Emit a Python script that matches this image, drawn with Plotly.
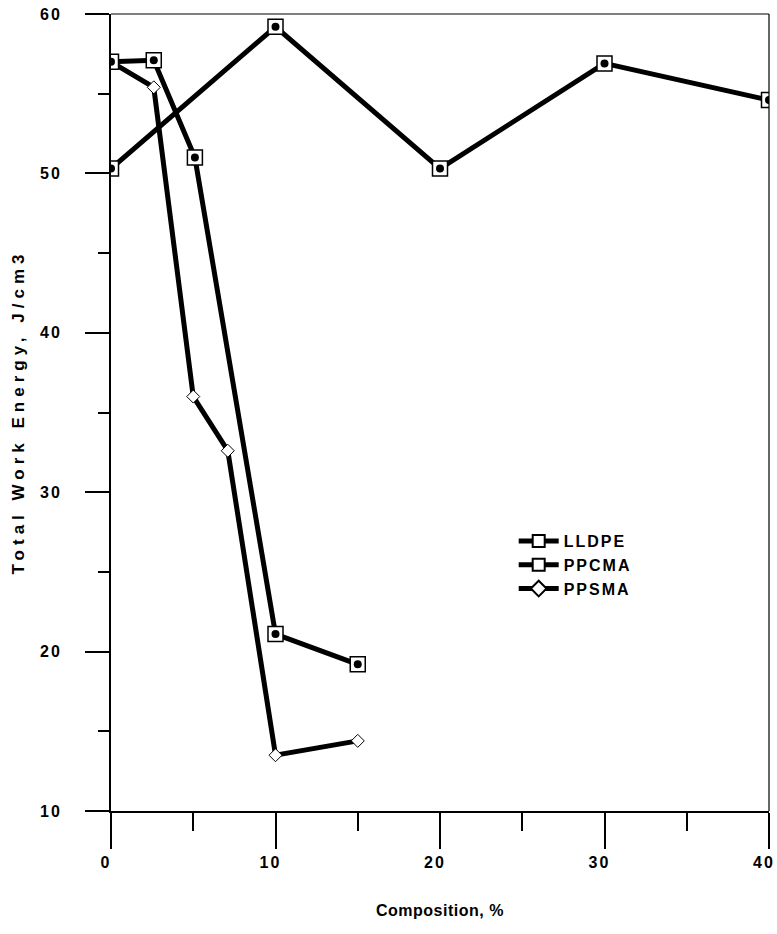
import plotly.graph_objects as go

# ---- data ----
lldpe_x = [0, 10, 20, 30, 40]
lldpe_y = [50.3, 59.2, 50.3, 56.9, 54.6]

ppcma_x = [0, 2.6, 5.1, 10, 15]
ppcma_y = [57.0, 57.1, 51.0, 21.1, 19.2]

ppsma_x = [0, 2.6, 5.0, 7.1, 10, 15]
ppsma_y = [57.0, 55.4, 36.0, 32.6, 13.5, 14.4]

x_ticks = [0, 10, 20, 30, 40]
y_ticks = [10, 20, 30, 40, 50, 60]

series_names = ["LLDPE", "PPCMA", "PPSMA"]
x_title = "Composition, %"
y_title = "Total Work Energy, J/cm3"

FONT = "Liberation Sans"
BLACK = "#000000"


def spaced(text, px):
    return f'<span style="letter-spacing:{px}px">{text}</span>'


fig = go.Figure()

# PPSMA: thick line, small open diamonds
fig.add_trace(go.Scatter(
    x=ppsma_x, y=ppsma_y, mode="lines+markers", name=spaced(series_names[2], 2),
    line=dict(color=BLACK, width=5),
    marker=dict(symbol="diamond", size=10, color="white",
                line=dict(color=BLACK, width=1)),
    legendrank=3,
))

# PPCMA: thick line, open squares with a black dot
fig.add_trace(go.Scatter(
    x=ppcma_x, y=ppcma_y, mode="lines+markers", name=spaced(series_names[1], 2),
    line=dict(color=BLACK, width=5),
    marker=dict(symbol="square", size=15, color="white",
                line=dict(color=BLACK, width=1.5)),
    legendrank=2,
))

# LLDPE
fig.add_trace(go.Scatter(
    x=lldpe_x, y=lldpe_y, mode="lines+markers", name=spaced(series_names[0], 2),
    line=dict(color=BLACK, width=5),
    marker=dict(symbol="square", size=15, color="white",
                line=dict(color=BLACK, width=1.5)),
    legendrank=1,
))

# centre dots of the square markers
for xs, ys in [(ppcma_x, ppcma_y), (lldpe_x, lldpe_y)]:
    fig.add_trace(go.Scatter(
        x=xs, y=ys, mode="markers", showlegend=False, hoverinfo="skip",
        marker=dict(symbol="circle", size=8, color=BLACK),
    ))

tickfont = dict(family=FONT, size=16, color=BLACK, weight="bold")
titlefont = dict(family=FONT, size=16, color=BLACK, weight="bold")

fig.update_layout(
    width=777, height=934,
    margin=dict(l=111, r=8, t=14, b=123, autoexpand=False),
    paper_bgcolor="white", plot_bgcolor="white",
    showlegend=True,
    legend=dict(
        x=0.612, y=0.36, xanchor="left", yanchor="top",
        bgcolor="rgba(0,0,0,0)", borderwidth=0,
        font=dict(family=FONT, size=16, color=BLACK, weight="bold"),
        itemwidth=40, tracegroupgap=0, itemsizing="constant",
    ),
    xaxis=dict(
        range=[0, 40], tickvals=x_ticks,
        ticktext=[spaced(str(v), 2) for v in x_ticks],
        showgrid=False, zeroline=False, automargin=False,
        showline=True, linecolor=BLACK, linewidth=2,
        ticks="outside", ticklen=36, tickwidth=1.5, tickcolor=BLACK,
        minor=dict(dtick=5, tick0=0, ticks="outside", ticklen=18,
                   tickwidth=1.5, tickcolor=BLACK, showgrid=False),
        tickfont=tickfont, ticklabelshift=-5, ticklabeloverflow="allow",
    ),
    yaxis=dict(
        range=[10, 60], tickvals=y_ticks,
        ticktext=[spaced(str(v), 2) for v in y_ticks],
        showgrid=False, zeroline=False, automargin=False,
        showline=True, linecolor=BLACK, linewidth=2,
        ticks="outside", ticklen=24, tickwidth=1.5, tickcolor=BLACK,
        minor=dict(dtick=5, tick0=0, ticks="outside", ticklen=11,
                   tickwidth=1.5, tickcolor=BLACK, showgrid=False),
        tickfont=tickfont, ticklabelstandoff=20,
    ),
    annotations=[
        dict(text=spaced(x_title, 0.5), xref="paper", yref="paper",
             x=0.5, y=0, xanchor="center", yanchor="middle",
             yshift=-99, showarrow=False, font=titlefont),
        dict(text=spaced(y_title, 5), xref="paper", yref="paper",
             x=0, y=0.5, xanchor="center", yanchor="middle", textangle=-90,
             xshift=-93, showarrow=False,
             font=dict(family=FONT, size=17, color=BLACK, weight="bold")),
    ],
    shapes=[
        dict(type="line", xref="paper", yref="paper", x0=0, x1=1, y0=1, y1=1,
             line=dict(color=BLACK, width=1.2)),
        dict(type="line", xref="paper", yref="paper", x0=1, x1=1, y0=0, y1=1,
             line=dict(color=BLACK, width=1.2)),
    ],
)

fig.write_html("out.html")
